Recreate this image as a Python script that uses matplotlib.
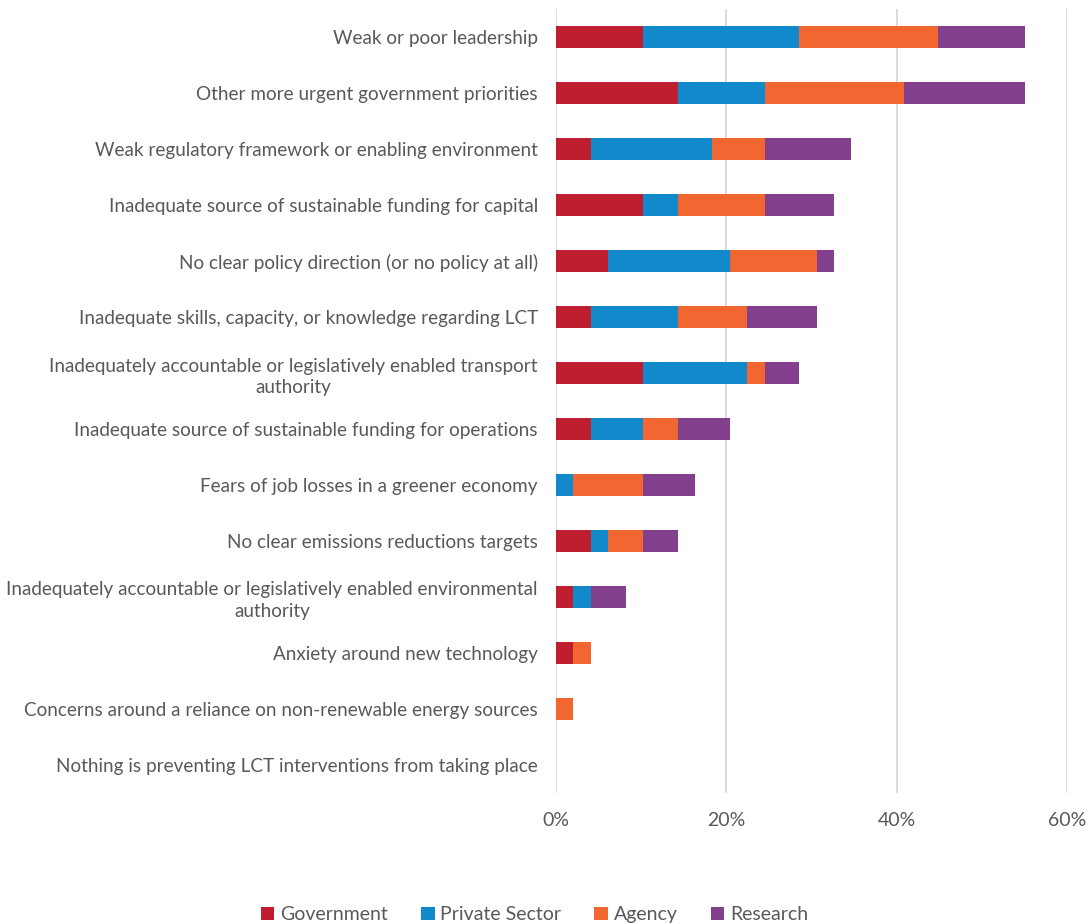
import matplotlib
matplotlib.use("Agg")
import matplotlib.pyplot as plt
from matplotlib.ticker import PercentFormatter

plt.rcParams['font.family'] = ['Lato', 'DejaVu Sans']

# Number of respondents each percentage is based on
n_respondents = 49

categories = [
    "Weak or poor leadership",
    "Other more urgent government priorities",
    "Weak regulatory framework or enabling environment",
    "Inadequate source of sustainable funding for capital",
    "No clear policy direction (or no policy at all)",
    "Inadequate skills, capacity, or knowledge regarding LCT",
    "Inadequately accountable or legislatively enabled transport\nauthority",
    "Inadequate source of sustainable funding for operations",
    "Fears of job losses in a greener economy",
    "No clear emissions reductions targets",
    "Inadequately accountable or legislatively enabled environmental\nauthority",
    "Anxiety around new technology",
    "Concerns around a reliance on non-renewable energy sources",
    "Nothing is preventing LCT interventions from taking place",
]

# Response counts by sector
government     = [5, 7, 2, 5, 3, 2, 5, 2, 0, 2, 1, 1, 0, 0]
private_sector = [9, 5, 7, 2, 7, 5, 6, 3, 1, 1, 1, 0, 0, 0]
agency         = [8, 8, 3, 5, 5, 4, 1, 2, 4, 2, 0, 1, 1, 0]
research       = [5, 7, 5, 4, 1, 4, 2, 3, 3, 2, 2, 0, 0, 0]

series_names = ["Government", "Private Sector", "Agency", "Research"]
series_values = [government, private_sector, agency, research]
colors = ["#BE1E2D", "#1289CA", "#F26632", "#823F8C"]

fig = plt.figure(figsize=(10.91, 9.24), dpi=100)
ax = fig.add_axes([0.5096, 0.1418, 0.4684, 0.8484])

y = list(range(len(categories)))
left = [0.0] * len(categories)
for name, vals, col in zip(series_names, series_values, colors):
    pct = [v / n_respondents * 100 for v in vals]
    ax.barh(y, pct, left=left, height=0.4, color=col, label=name, zorder=3)
    left = [a + b for a, b in zip(left, pct)]

ax.set_ylim(len(categories) - 0.5, -0.5)
ax.set_xlim(0, 60)
ax.set_xticks([0, 20, 40, 60])
ax.xaxis.set_major_formatter(PercentFormatter(decimals=0))
ax.set_yticks(y)
ax.set_yticklabels(categories, fontsize=13.6, color="#595959", ha="right",
                   multialignment="center", linespacing=1.35)
ax.tick_params(axis="y", length=0, pad=13)
ax.tick_params(axis="x", length=0, pad=14, labelsize=14, labelcolor="#595959")

ax.grid(axis="x", color="#D9D9D9", linewidth=1.3, zorder=0)
for s in ax.spines.values():
    s.set_visible(False)

handles, labels = ax.get_legend_handles_labels()
fig.legend(handles, labels, loc="center", bbox_to_anchor=(0.49, 0.010),
           ncol=4, frameon=False, fontsize=14, labelcolor="#595959",
           handlelength=0.7, handleheight=0.7, handletextpad=0.3,
           columnspacing=1.7)

fig.savefig("out.png", dpi=100)
